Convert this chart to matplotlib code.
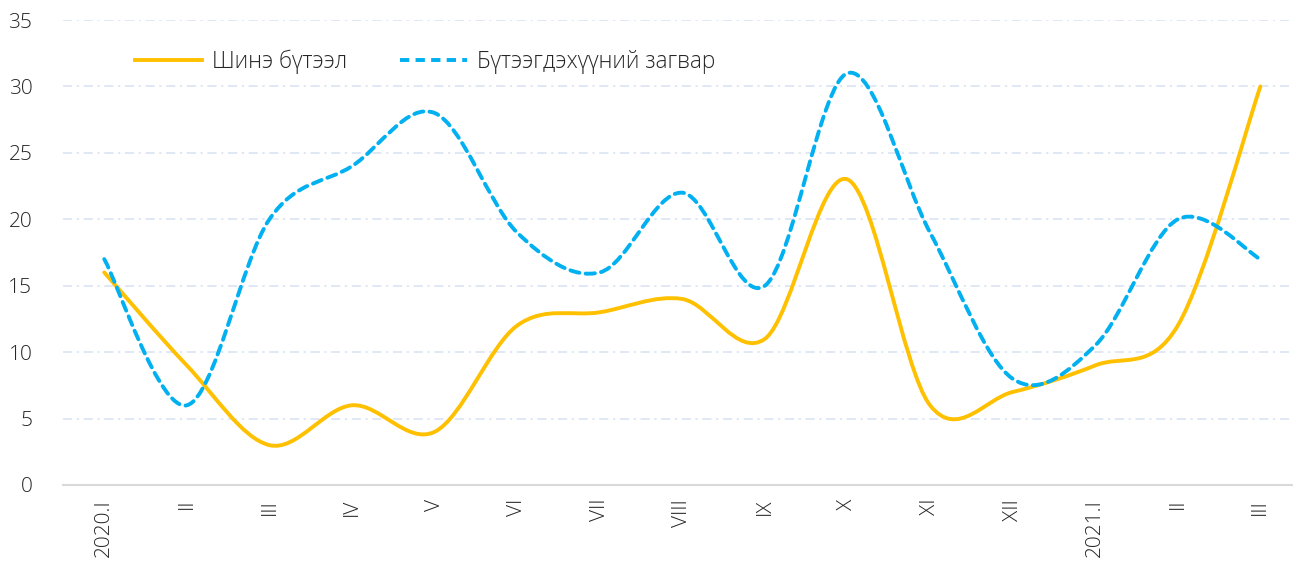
import matplotlib
matplotlib.use("Agg")
from matplotlib import pyplot as plt
from matplotlib.path import Path
from matplotlib.patches import PathPatch
from matplotlib.lines import Line2D

plt.rcParams['font.family'] = ['Open Sans', 'DejaVu Sans']
plt.rcParams['font.weight'] = 'light'

labels = ['2020.I', 'II', 'III', 'IV', 'V', 'VI', 'VII', 'VIII', 'IX', 'X',
          'XI', 'XII', '2021.I', 'II', 'III']
shine = [16, 9, 3, 6, 4, 12, 13, 14, 11, 23, 6, 7, 9, 12, 30]
zagvar = [17, 6, 20, 24, 28, 19, 16, 22, 15, 31, 19, 8, 10.5, 20, 17]

yellow = '#FFC000'
blue = '#00B0F0'


def smooth_path(ys):
    # Excel-like smoothed line: Catmull-Rom segments as cubic Bezier curves
    xs = list(range(len(ys)))
    pts = list(zip(xs, ys))
    verts = [pts[0]]
    codes = [Path.MOVETO]
    n = len(pts)
    for i in range(n - 1):
        p0 = pts[i - 1] if i > 0 else pts[i]
        p1 = pts[i]
        p2 = pts[i + 1]
        p3 = pts[i + 2] if i + 2 < n else pts[i + 1]
        c1 = (p1[0] + (p2[0] - p0[0]) / 6, p1[1] + (p2[1] - p0[1]) / 6)
        c2 = (p2[0] - (p3[0] - p1[0]) / 6, p2[1] - (p3[1] - p1[1]) / 6)
        verts += [c1, c2, p2]
        codes += [Path.CURVE4] * 3
    return Path(verts, codes)


fig = plt.figure(figsize=(12.93, 5.65), dpi=100)
ax = fig.add_axes([0.0487, 0.1416, 0.958, 0.823])

ax.add_patch(PathPatch(smooth_path(shine), fill=False, edgecolor=yellow,
                       lw=2.8, capstyle='round', joinstyle='round', zorder=3))
ax.add_patch(PathPatch(smooth_path(zagvar), fill=False, edgecolor=blue,
                       lw=2.8, linestyle=(0, (2.4, 1.6)), capstyle='round',
                       joinstyle='round', zorder=3))

ax.set_xlim(-0.5, len(labels) - 0.5)
ax.set_ylim(0, 35)
ax.set_yticks(range(0, 36, 5))
ax.set_xticks(range(len(labels)))
ax.set_xticklabels(labels, rotation=90, va='top')

ax.grid(axis='y', color='#D9E1F2', lw=1.1, linestyle=(0, (6, 3, 1.5, 3)))
ax.set_axisbelow(True)
for s in ['top', 'right', 'left']:
    ax.spines[s].set_visible(False)
ax.spines['bottom'].set_color('#D9D9D9')
ax.spines['bottom'].set_linewidth(1.5)
ax.tick_params(axis='both', length=0, labelsize=15, colors='#262626')
ax.tick_params(axis='y', pad=22)
ax.tick_params(axis='x', pad=10)

handles = [Line2D([], [], color=yellow, lw=2.8),
           Line2D([], [], color=blue, lw=2.8, linestyle=(0, (2.4, 1.6)))]
fig.legend(handles, ['Шинэ бүтээл', 'Бүтээгдэхүүний загвар'], ncol=2,
           frameon=False, loc='center left', bbox_to_anchor=(0.0886, 0.89),
           fontsize=16.3, handlelength=2.96, handletextpad=0.44,
           columnspacing=2.34, labelcolor='#262626')

fig.savefig('out.png', dpi=100)
